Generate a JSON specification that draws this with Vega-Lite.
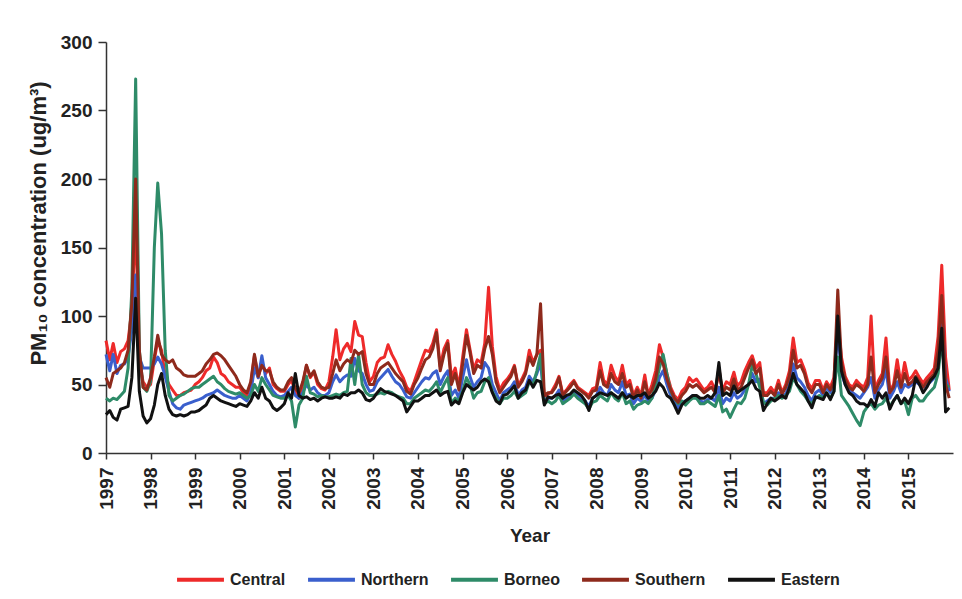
{
"$schema":"https://vega.github.io/schema/vega-lite/v6.json",
"autosize":{"type":"none"},
"width":847,"height":411,
"padding":{"left":106,"top":42,"right":9,"bottom":146},
"background":"white",
"config":{"font":"Liberation Sans","view":{"stroke":null},"axis":{"grid":false,"domainColor":"#333","tickColor":"#333","labelColor":"#222","titleColor":"#222","labelFontWeight":"bold","titleFontWeight":"bold","domainWidth":1.5,"tickWidth":1.5,"labelFlush":false,"labelOverlap":false}},
"data":{"values":[
{"d":"1997-01","Central":82,"Northern":72,"Borneo":40,"Southern":55,"Eastern":28},
{"d":"1997-02","Central":68,"Northern":60,"Borneo":38,"Southern":48,"Eastern":31},
{"d":"1997-03","Central":80,"Northern":72,"Borneo":40,"Southern":58,"Eastern":26},
{"d":"1997-04","Central":66,"Northern":58,"Borneo":39,"Southern":60,"Eastern":24},
{"d":"1997-05","Central":74,"Northern":64,"Borneo":42,"Southern":62,"Eastern":32},
{"d":"1997-06","Central":76,"Northern":65,"Borneo":45,"Southern":66,"Eastern":33},
{"d":"1997-07","Central":82,"Northern":70,"Borneo":62,"Southern":75,"Eastern":34},
{"d":"1997-08","Central":105,"Northern":90,"Borneo":120,"Southern":110,"Eastern":55},
{"d":"1997-09","Central":170,"Northern":130,"Borneo":273,"Southern":200,"Eastern":113},
{"d":"1997-10","Central":65,"Northern":70,"Borneo":75,"Southern":75,"Eastern":45},
{"d":"1997-11","Central":52,"Northern":62,"Borneo":48,"Southern":48,"Eastern":27},
{"d":"1997-12","Central":48,"Northern":62,"Borneo":45,"Southern":46,"Eastern":22},
{"d":"1998-01","Central":50,"Northern":62,"Borneo":52,"Southern":55,"Eastern":25},
{"d":"1998-02","Central":68,"Northern":65,"Borneo":150,"Southern":70,"Eastern":35},
{"d":"1998-03","Central":82,"Northern":70,"Borneo":197,"Southern":86,"Eastern":50},
{"d":"1998-04","Central":75,"Northern":65,"Borneo":160,"Southern":72,"Eastern":58},
{"d":"1998-05","Central":56,"Northern":56,"Borneo":75,"Southern":68,"Eastern":42},
{"d":"1998-06","Central":50,"Northern":45,"Borneo":42,"Southern":66,"Eastern":32},
{"d":"1998-07","Central":46,"Northern":36,"Borneo":38,"Southern":68,"Eastern":28},
{"d":"1998-08","Central":42,"Northern":33,"Borneo":40,"Southern":62,"Eastern":27},
{"d":"1998-09","Central":42,"Northern":32,"Borneo":42,"Southern":60,"Eastern":28},
{"d":"1998-10","Central":44,"Northern":35,"Borneo":43,"Southern":57,"Eastern":27},
{"d":"1998-11","Central":45,"Northern":36,"Borneo":45,"Southern":56,"Eastern":28},
{"d":"1998-12","Central":46,"Northern":37,"Borneo":47,"Southern":56,"Eastern":30},
{"d":"1999-01","Central":50,"Northern":38,"Borneo":48,"Southern":56,"Eastern":30},
{"d":"1999-02","Central":52,"Northern":39,"Borneo":48,"Southern":58,"Eastern":31},
{"d":"1999-03","Central":55,"Northern":40,"Borneo":50,"Southern":60,"Eastern":33},
{"d":"1999-04","Central":60,"Northern":42,"Borneo":52,"Southern":65,"Eastern":35},
{"d":"1999-05","Central":62,"Northern":43,"Borneo":54,"Southern":68,"Eastern":40},
{"d":"1999-06","Central":70,"Northern":44,"Borneo":56,"Southern":72,"Eastern":42},
{"d":"1999-07","Central":66,"Northern":46,"Borneo":52,"Southern":73,"Eastern":40},
{"d":"1999-08","Central":58,"Northern":44,"Borneo":50,"Southern":71,"Eastern":38},
{"d":"1999-09","Central":56,"Northern":42,"Borneo":47,"Southern":68,"Eastern":37},
{"d":"1999-10","Central":52,"Northern":41,"Borneo":45,"Southern":64,"Eastern":36},
{"d":"1999-11","Central":50,"Northern":40,"Borneo":44,"Southern":60,"Eastern":35},
{"d":"1999-12","Central":48,"Northern":40,"Borneo":43,"Southern":56,"Eastern":34},
{"d":"2000-01","Central":48,"Northern":42,"Borneo":44,"Southern":50,"Eastern":36},
{"d":"2000-02","Central":44,"Northern":40,"Borneo":42,"Southern":46,"Eastern":35},
{"d":"2000-03","Central":42,"Northern":38,"Borneo":40,"Southern":44,"Eastern":34},
{"d":"2000-04","Central":50,"Northern":44,"Borneo":42,"Southern":52,"Eastern":38},
{"d":"2000-05","Central":71,"Northern":62,"Borneo":50,"Southern":72,"Eastern":44},
{"d":"2000-06","Central":55,"Northern":55,"Borneo":45,"Southern":56,"Eastern":40},
{"d":"2000-07","Central":66,"Northern":71,"Borneo":55,"Southern":64,"Eastern":48},
{"d":"2000-08","Central":58,"Northern":55,"Borneo":50,"Southern":60,"Eastern":40},
{"d":"2000-09","Central":62,"Northern":50,"Borneo":46,"Southern":60,"Eastern":38},
{"d":"2000-10","Central":50,"Northern":45,"Borneo":42,"Southern":52,"Eastern":33},
{"d":"2000-11","Central":47,"Northern":42,"Borneo":41,"Southern":48,"Eastern":31},
{"d":"2000-12","Central":45,"Northern":41,"Borneo":40,"Southern":46,"Eastern":33},
{"d":"2001-01","Central":45,"Northern":42,"Borneo":40,"Southern":46,"Eastern":36},
{"d":"2001-02","Central":50,"Northern":45,"Borneo":42,"Southern":52,"Eastern":44},
{"d":"2001-03","Central":53,"Northern":48,"Borneo":38,"Southern":55,"Eastern":40},
{"d":"2001-04","Central":45,"Northern":42,"Borneo":19,"Southern":47,"Eastern":58},
{"d":"2001-05","Central":40,"Northern":40,"Borneo":35,"Southern":44,"Eastern":42},
{"d":"2001-06","Central":50,"Northern":44,"Borneo":40,"Southern":52,"Eastern":40},
{"d":"2001-07","Central":64,"Northern":50,"Borneo":56,"Southern":64,"Eastern":41},
{"d":"2001-08","Central":55,"Northern":46,"Borneo":44,"Southern":56,"Eastern":39},
{"d":"2001-09","Central":59,"Northern":48,"Borneo":43,"Southern":60,"Eastern":40},
{"d":"2001-10","Central":50,"Northern":44,"Borneo":41,"Southern":52,"Eastern":38},
{"d":"2001-11","Central":47,"Northern":42,"Borneo":42,"Southern":48,"Eastern":40},
{"d":"2001-12","Central":46,"Northern":42,"Borneo":41,"Southern":47,"Eastern":41},
{"d":"2002-01","Central":52,"Northern":44,"Borneo":41,"Southern":48,"Eastern":40},
{"d":"2002-02","Central":70,"Northern":52,"Borneo":42,"Southern":58,"Eastern":40},
{"d":"2002-03","Central":90,"Northern":57,"Borneo":43,"Southern":68,"Eastern":41},
{"d":"2002-04","Central":68,"Northern":52,"Borneo":42,"Southern":60,"Eastern":40},
{"d":"2002-05","Central":76,"Northern":55,"Borneo":44,"Southern":65,"Eastern":43},
{"d":"2002-06","Central":80,"Northern":57,"Borneo":45,"Southern":68,"Eastern":42},
{"d":"2002-07","Central":74,"Northern":56,"Borneo":69,"Southern":66,"Eastern":44},
{"d":"2002-08","Central":96,"Northern":69,"Borneo":50,"Southern":75,"Eastern":44},
{"d":"2002-09","Central":86,"Northern":60,"Borneo":72,"Southern":72,"Eastern":46},
{"d":"2002-10","Central":85,"Northern":58,"Borneo":50,"Southern":74,"Eastern":44},
{"d":"2002-11","Central":66,"Northern":50,"Borneo":44,"Southern":58,"Eastern":39},
{"d":"2002-12","Central":52,"Northern":45,"Borneo":42,"Southern":50,"Eastern":38},
{"d":"2003-01","Central":56,"Northern":46,"Borneo":42,"Southern":50,"Eastern":40},
{"d":"2003-02","Central":66,"Northern":52,"Borneo":43,"Southern":58,"Eastern":44},
{"d":"2003-03","Central":69,"Northern":55,"Borneo":44,"Southern":62,"Eastern":47},
{"d":"2003-04","Central":70,"Northern":58,"Borneo":43,"Southern":64,"Eastern":45},
{"d":"2003-05","Central":79,"Northern":61,"Borneo":45,"Southern":66,"Eastern":44},
{"d":"2003-06","Central":72,"Northern":56,"Borneo":44,"Southern":62,"Eastern":43},
{"d":"2003-07","Central":67,"Northern":52,"Borneo":42,"Southern":58,"Eastern":42},
{"d":"2003-08","Central":60,"Northern":50,"Borneo":41,"Southern":55,"Eastern":40},
{"d":"2003-09","Central":55,"Northern":46,"Borneo":40,"Southern":52,"Eastern":38},
{"d":"2003-10","Central":48,"Northern":41,"Borneo":36,"Southern":45,"Eastern":30},
{"d":"2003-11","Central":45,"Northern":40,"Borneo":36,"Southern":43,"Eastern":34},
{"d":"2003-12","Central":52,"Northern":44,"Borneo":40,"Southern":50,"Eastern":38},
{"d":"2004-01","Central":60,"Northern":48,"Borneo":42,"Southern":55,"Eastern":38},
{"d":"2004-02","Central":68,"Northern":52,"Borneo":44,"Southern":62,"Eastern":40},
{"d":"2004-03","Central":75,"Northern":55,"Borneo":46,"Southern":68,"Eastern":42},
{"d":"2004-04","Central":74,"Northern":54,"Borneo":45,"Southern":70,"Eastern":42},
{"d":"2004-05","Central":80,"Northern":58,"Borneo":48,"Southern":76,"Eastern":44},
{"d":"2004-06","Central":90,"Northern":60,"Borneo":52,"Southern":88,"Eastern":46},
{"d":"2004-07","Central":63,"Northern":50,"Borneo":44,"Southern":60,"Eastern":42},
{"d":"2004-08","Central":76,"Northern":56,"Borneo":50,"Southern":72,"Eastern":44},
{"d":"2004-09","Central":82,"Northern":60,"Borneo":55,"Southern":80,"Eastern":45},
{"d":"2004-10","Central":55,"Northern":42,"Borneo":36,"Southern":50,"Eastern":35},
{"d":"2004-11","Central":62,"Northern":46,"Borneo":40,"Southern":58,"Eastern":38},
{"d":"2004-12","Central":48,"Northern":40,"Borneo":38,"Southern":46,"Eastern":36},
{"d":"2005-01","Central":70,"Northern":55,"Borneo":45,"Southern":65,"Eastern":44},
{"d":"2005-02","Central":90,"Northern":68,"Borneo":55,"Southern":86,"Eastern":50},
{"d":"2005-03","Central":76,"Northern":56,"Borneo":50,"Southern":74,"Eastern":48},
{"d":"2005-04","Central":61,"Northern":48,"Borneo":40,"Southern":58,"Eastern":46},
{"d":"2005-05","Central":68,"Northern":52,"Borneo":44,"Southern":64,"Eastern":48},
{"d":"2005-06","Central":66,"Northern":55,"Borneo":45,"Southern":62,"Eastern":52},
{"d":"2005-07","Central":80,"Northern":66,"Borneo":52,"Southern":76,"Eastern":54},
{"d":"2005-08","Central":121,"Northern":62,"Borneo":55,"Southern":85,"Eastern":52},
{"d":"2005-09","Central":78,"Northern":50,"Borneo":45,"Southern":72,"Eastern":44},
{"d":"2005-10","Central":56,"Northern":44,"Borneo":40,"Southern":52,"Eastern":38},
{"d":"2005-11","Central":46,"Northern":38,"Borneo":36,"Southern":44,"Eastern":36},
{"d":"2005-12","Central":51,"Northern":44,"Borneo":40,"Southern":48,"Eastern":42},
{"d":"2006-01","Central":54,"Northern":46,"Borneo":40,"Southern":52,"Eastern":43},
{"d":"2006-02","Central":58,"Northern":48,"Borneo":42,"Southern":56,"Eastern":46},
{"d":"2006-03","Central":64,"Northern":52,"Borneo":45,"Southern":63,"Eastern":49},
{"d":"2006-04","Central":49,"Northern":42,"Borneo":40,"Southern":48,"Eastern":40},
{"d":"2006-05","Central":54,"Northern":46,"Borneo":42,"Southern":52,"Eastern":44},
{"d":"2006-06","Central":60,"Northern":48,"Borneo":44,"Southern":58,"Eastern":46},
{"d":"2006-07","Central":75,"Northern":56,"Borneo":52,"Southern":70,"Eastern":53},
{"d":"2006-08","Central":66,"Northern":52,"Borneo":50,"Southern":64,"Eastern":48},
{"d":"2006-09","Central":72,"Northern":58,"Borneo":60,"Southern":72,"Eastern":53},
{"d":"2006-10","Central":75,"Northern":66,"Borneo":72,"Southern":109,"Eastern":52},
{"d":"2006-11","Central":41,"Northern":38,"Borneo":36,"Southern":42,"Eastern":35},
{"d":"2006-12","Central":43,"Northern":40,"Borneo":38,"Southern":44,"Eastern":41},
{"d":"2007-01","Central":45,"Northern":40,"Borneo":36,"Southern":44,"Eastern":40},
{"d":"2007-02","Central":50,"Northern":42,"Borneo":38,"Southern":48,"Eastern":42},
{"d":"2007-03","Central":56,"Northern":46,"Borneo":42,"Southern":55,"Eastern":43},
{"d":"2007-04","Central":43,"Northern":38,"Borneo":36,"Southern":42,"Eastern":40},
{"d":"2007-05","Central":46,"Northern":40,"Borneo":38,"Southern":45,"Eastern":42},
{"d":"2007-06","Central":50,"Northern":42,"Borneo":40,"Southern":48,"Eastern":43},
{"d":"2007-07","Central":53,"Northern":45,"Borneo":43,"Southern":52,"Eastern":46},
{"d":"2007-08","Central":48,"Northern":42,"Borneo":40,"Southern":47,"Eastern":44},
{"d":"2007-09","Central":46,"Northern":40,"Borneo":38,"Southern":45,"Eastern":42},
{"d":"2007-10","Central":44,"Northern":38,"Borneo":36,"Southern":43,"Eastern":38},
{"d":"2007-11","Central":42,"Northern":34,"Borneo":32,"Southern":40,"Eastern":31},
{"d":"2007-12","Central":47,"Northern":40,"Borneo":37,"Southern":45,"Eastern":40},
{"d":"2008-01","Central":48,"Northern":42,"Borneo":38,"Southern":46,"Eastern":42},
{"d":"2008-02","Central":66,"Northern":48,"Borneo":42,"Southern":60,"Eastern":44},
{"d":"2008-03","Central":53,"Northern":44,"Borneo":40,"Southern":50,"Eastern":43},
{"d":"2008-04","Central":50,"Northern":42,"Borneo":38,"Southern":48,"Eastern":42},
{"d":"2008-05","Central":64,"Northern":50,"Borneo":44,"Southern":58,"Eastern":44},
{"d":"2008-06","Central":56,"Northern":46,"Borneo":40,"Southern":52,"Eastern":42},
{"d":"2008-07","Central":52,"Northern":44,"Borneo":38,"Southern":50,"Eastern":40},
{"d":"2008-08","Central":64,"Northern":52,"Borneo":44,"Southern":58,"Eastern":44},
{"d":"2008-09","Central":50,"Northern":42,"Borneo":36,"Southern":48,"Eastern":40},
{"d":"2008-10","Central":53,"Northern":43,"Borneo":38,"Southern":50,"Eastern":42},
{"d":"2008-11","Central":42,"Northern":36,"Borneo":32,"Southern":40,"Eastern":40},
{"d":"2008-12","Central":48,"Northern":40,"Borneo":35,"Southern":46,"Eastern":42},
{"d":"2009-01","Central":42,"Northern":38,"Borneo":36,"Southern":40,"Eastern":42},
{"d":"2009-02","Central":57,"Northern":42,"Borneo":38,"Southern":52,"Eastern":44},
{"d":"2009-03","Central":42,"Northern":38,"Borneo":36,"Southern":42,"Eastern":40},
{"d":"2009-04","Central":50,"Northern":40,"Borneo":40,"Southern":46,"Eastern":42},
{"d":"2009-05","Central":60,"Northern":46,"Borneo":50,"Southern":54,"Eastern":45},
{"d":"2009-06","Central":79,"Northern":55,"Borneo":62,"Southern":70,"Eastern":51},
{"d":"2009-07","Central":70,"Northern":60,"Borneo":72,"Southern":65,"Eastern":48},
{"d":"2009-08","Central":58,"Northern":50,"Borneo":58,"Southern":54,"Eastern":42},
{"d":"2009-09","Central":48,"Northern":42,"Borneo":45,"Southern":46,"Eastern":40},
{"d":"2009-10","Central":42,"Northern":38,"Borneo":40,"Southern":40,"Eastern":35},
{"d":"2009-11","Central":39,"Northern":33,"Borneo":36,"Southern":37,"Eastern":29},
{"d":"2009-12","Central":45,"Northern":37,"Borneo":38,"Southern":42,"Eastern":35},
{"d":"2010-01","Central":48,"Northern":38,"Borneo":35,"Southern":45,"Eastern":38},
{"d":"2010-02","Central":55,"Northern":40,"Borneo":38,"Southern":50,"Eastern":40},
{"d":"2010-03","Central":52,"Northern":42,"Borneo":40,"Southern":48,"Eastern":42},
{"d":"2010-04","Central":54,"Northern":40,"Borneo":40,"Southern":50,"Eastern":42},
{"d":"2010-05","Central":50,"Northern":38,"Borneo":36,"Southern":47,"Eastern":40},
{"d":"2010-06","Central":46,"Northern":37,"Borneo":36,"Southern":44,"Eastern":40},
{"d":"2010-07","Central":48,"Northern":39,"Borneo":38,"Southern":46,"Eastern":42},
{"d":"2010-08","Central":52,"Northern":40,"Borneo":36,"Southern":48,"Eastern":40},
{"d":"2010-09","Central":46,"Northern":38,"Borneo":34,"Southern":44,"Eastern":44},
{"d":"2010-10","Central":58,"Northern":48,"Borneo":42,"Southern":62,"Eastern":66},
{"d":"2010-11","Central":46,"Northern":36,"Borneo":30,"Southern":44,"Eastern":42},
{"d":"2010-12","Central":52,"Northern":40,"Borneo":32,"Southern":48,"Eastern":44},
{"d":"2011-01","Central":50,"Northern":38,"Borneo":26,"Southern":46,"Eastern":42},
{"d":"2011-02","Central":59,"Northern":44,"Borneo":32,"Southern":54,"Eastern":49},
{"d":"2011-03","Central":49,"Northern":40,"Borneo":37,"Southern":46,"Eastern":44},
{"d":"2011-04","Central":52,"Northern":42,"Borneo":36,"Southern":48,"Eastern":46},
{"d":"2011-05","Central":60,"Northern":46,"Borneo":40,"Southern":55,"Eastern":48},
{"d":"2011-06","Central":66,"Northern":50,"Borneo":50,"Southern":62,"Eastern":50},
{"d":"2011-07","Central":71,"Northern":58,"Borneo":64,"Southern":68,"Eastern":53},
{"d":"2011-08","Central":62,"Northern":52,"Borneo":58,"Southern":58,"Eastern":47},
{"d":"2011-09","Central":66,"Northern":54,"Borneo":48,"Southern":62,"Eastern":45},
{"d":"2011-10","Central":44,"Northern":36,"Borneo":37,"Southern":42,"Eastern":31},
{"d":"2011-11","Central":44,"Northern":38,"Borneo":35,"Southern":42,"Eastern":36},
{"d":"2011-12","Central":48,"Northern":40,"Borneo":38,"Southern":45,"Eastern":40},
{"d":"2012-01","Central":44,"Northern":40,"Borneo":40,"Southern":42,"Eastern":38},
{"d":"2012-02","Central":53,"Northern":44,"Borneo":42,"Southern":50,"Eastern":40},
{"d":"2012-03","Central":44,"Northern":42,"Borneo":40,"Southern":43,"Eastern":42},
{"d":"2012-04","Central":50,"Northern":43,"Borneo":42,"Southern":48,"Eastern":40},
{"d":"2012-05","Central":60,"Northern":50,"Borneo":45,"Southern":56,"Eastern":48},
{"d":"2012-06","Central":84,"Northern":65,"Borneo":55,"Southern":75,"Eastern":58},
{"d":"2012-07","Central":66,"Northern":55,"Borneo":50,"Southern":62,"Eastern":50},
{"d":"2012-08","Central":68,"Northern":52,"Borneo":45,"Southern":64,"Eastern":47},
{"d":"2012-09","Central":61,"Northern":48,"Borneo":42,"Southern":58,"Eastern":44},
{"d":"2012-10","Central":51,"Northern":42,"Borneo":38,"Southern":48,"Eastern":38},
{"d":"2012-11","Central":47,"Northern":38,"Borneo":36,"Southern":44,"Eastern":33},
{"d":"2012-12","Central":53,"Northern":44,"Borneo":40,"Southern":50,"Eastern":41},
{"d":"2013-01","Central":53,"Northern":46,"Borneo":42,"Southern":50,"Eastern":40},
{"d":"2013-02","Central":46,"Northern":42,"Borneo":40,"Southern":44,"Eastern":39},
{"d":"2013-03","Central":52,"Northern":48,"Borneo":44,"Southern":50,"Eastern":44},
{"d":"2013-04","Central":48,"Northern":44,"Borneo":40,"Southern":46,"Eastern":39},
{"d":"2013-05","Central":55,"Northern":50,"Borneo":45,"Southern":52,"Eastern":45},
{"d":"2013-06","Central":98,"Northern":90,"Borneo":70,"Southern":119,"Eastern":100},
{"d":"2013-07","Central":70,"Northern":58,"Borneo":42,"Southern":66,"Eastern":60},
{"d":"2013-08","Central":56,"Northern":50,"Borneo":38,"Southern":54,"Eastern":50},
{"d":"2013-09","Central":50,"Northern":46,"Borneo":34,"Southern":48,"Eastern":44},
{"d":"2013-10","Central":48,"Northern":44,"Borneo":29,"Southern":46,"Eastern":42},
{"d":"2013-11","Central":53,"Northern":42,"Borneo":24,"Southern":50,"Eastern":38},
{"d":"2013-12","Central":50,"Northern":40,"Borneo":20,"Southern":48,"Eastern":36},
{"d":"2014-01","Central":48,"Northern":44,"Borneo":30,"Southern":45,"Eastern":36},
{"d":"2014-02","Central":55,"Northern":48,"Borneo":34,"Southern":50,"Eastern":34},
{"d":"2014-03","Central":100,"Northern":55,"Borneo":36,"Southern":70,"Eastern":39},
{"d":"2014-04","Central":46,"Northern":40,"Borneo":32,"Southern":44,"Eastern":34},
{"d":"2014-05","Central":53,"Northern":46,"Borneo":35,"Southern":50,"Eastern":44},
{"d":"2014-06","Central":58,"Northern":50,"Borneo":36,"Southern":55,"Eastern":40},
{"d":"2014-07","Central":84,"Northern":61,"Borneo":40,"Southern":70,"Eastern":44},
{"d":"2014-08","Central":45,"Northern":40,"Borneo":34,"Southern":44,"Eastern":32},
{"d":"2014-09","Central":50,"Northern":45,"Borneo":38,"Southern":48,"Eastern":38},
{"d":"2014-10","Central":68,"Northern":52,"Borneo":42,"Southern":60,"Eastern":42},
{"d":"2014-11","Central":50,"Northern":44,"Borneo":36,"Southern":48,"Eastern":36},
{"d":"2014-12","Central":66,"Northern":50,"Borneo":38,"Southern":58,"Eastern":40},
{"d":"2015-01","Central":53,"Northern":48,"Borneo":28,"Southern":50,"Eastern":36},
{"d":"2015-02","Central":56,"Northern":50,"Borneo":40,"Southern":52,"Eastern":42},
{"d":"2015-03","Central":60,"Northern":52,"Borneo":42,"Southern":56,"Eastern":55},
{"d":"2015-04","Central":55,"Northern":50,"Borneo":38,"Southern":52,"Eastern":50},
{"d":"2015-05","Central":51,"Northern":48,"Borneo":38,"Southern":48,"Eastern":44},
{"d":"2015-06","Central":55,"Northern":50,"Borneo":42,"Southern":52,"Eastern":48},
{"d":"2015-07","Central":58,"Northern":52,"Borneo":45,"Southern":55,"Eastern":53},
{"d":"2015-08","Central":62,"Northern":55,"Borneo":48,"Southern":58,"Eastern":56},
{"d":"2015-09","Central":85,"Northern":70,"Borneo":58,"Southern":75,"Eastern":62},
{"d":"2015-10","Central":137,"Northern":105,"Borneo":83,"Southern":115,"Eastern":91},
{"d":"2015-11","Central":70,"Northern":55,"Borneo":50,"Southern":50,"Eastern":30},
{"d":"2015-12","Central":46,"Northern":45,"Borneo":48,"Southern":40,"Eastern":33}
]},
"transform":[{"fold":["Central","Northern","Borneo","Southern","Eastern"],"as":["series","v"]}],
"mark":{"type":"line","strokeWidth":3,"strokeJoin":"round"},
"encoding":{
"x":{"field":"d","type":"temporal","scale":{"type":"utc","domain":[{"year":1997,"month":1,"date":1,"utc":true},{"year":2016,"month":1,"date":1,"utc":true}]},
"axis":{"title":"Year","format":"%Y","labelAngle":-90,"labelFontSize":19,"titleFontSize":19,"tickSize":6,"labelPadding":8,"titlePadding":17,
"values":[{"year":1997,"month":1,"date":1,"utc":true},{"year":1998,"month":1,"date":1,"utc":true},{"year":1999,"month":1,"date":1,"utc":true},{"year":2000,"month":1,"date":1,"utc":true},{"year":2001,"month":1,"date":1,"utc":true},{"year":2002,"month":1,"date":1,"utc":true},{"year":2003,"month":1,"date":1,"utc":true},{"year":2004,"month":1,"date":1,"utc":true},{"year":2005,"month":1,"date":1,"utc":true},{"year":2006,"month":1,"date":1,"utc":true},{"year":2007,"month":1,"date":1,"utc":true},{"year":2008,"month":1,"date":1,"utc":true},{"year":2009,"month":1,"date":1,"utc":true},{"year":2010,"month":1,"date":1,"utc":true},{"year":2011,"month":1,"date":1,"utc":true},{"year":2012,"month":1,"date":1,"utc":true},{"year":2013,"month":1,"date":1,"utc":true},{"year":2014,"month":1,"date":1,"utc":true},{"year":2015,"month":1,"date":1,"utc":true}]}},
"y":{"field":"v","type":"quantitative","scale":{"domain":[0,300],"nice":false},
"axis":{"title":"PM₁₀ concentration (ug/m³)","values":[0,50,100,150,200,250,300],"labelFontSize":19,"titleFontSize":22,"titleY":181,"tickSize":8,"labelPadding":6,"titlePadding":10}},
"color":{"field":"series","type":"nominal","scale":{"domain":["Central","Northern","Borneo","Southern","Eastern"],"range":["#ee2a2a","#3a5fcd","#2e8b68","#8e2a1c","#111111"]},
"legend":{"title":null,"orient":"none","legendX":69,"legendY":512,"direction":"horizontal","symbolType":"stroke","symbolSize":2200,"symbolStrokeWidth":4,"labelFontSize":16,"labelFontWeight":"bold","labelColor":"#222","labelOffset":4,"columnPadding":14,"padding":0}}
}
}
